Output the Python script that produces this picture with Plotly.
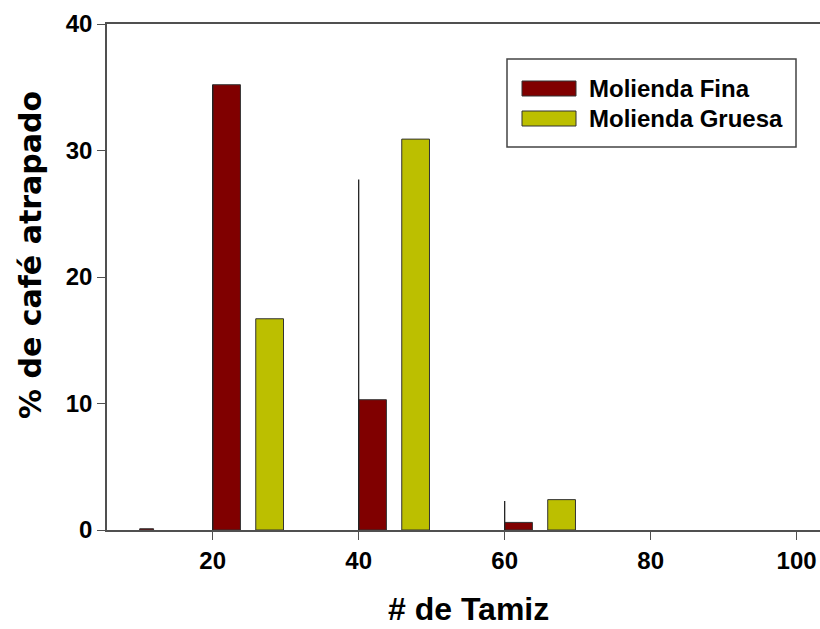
import plotly.graph_objects as go

# Data
series_names = ["Molienda Fina", "Molienda Gruesa"]
fina_tamiz = [10, 20, 40, 60]
fina_pct = [0.1, 35.2, 10.3, 0.6]
gruesa_tamiz = [20, 40, 60]
gruesa_pct = [16.7, 30.9, 2.4]
line_tamiz = [20, 40, 60]
line_top = [35.2, 27.7, 2.3]
x_ticks = [20, 40, 60, 80, 100]
y_ticks = [0, 10, 20, 30, 40]

fina_color = "#800000"
gruesa_color = "#BCBF00"
edge = "#333333"
font_family = "Liberation Sans, Arial, sans-serif"

W, H = 820, 629
ml, mr, mt, mb = 107, 0, 24, 99
pw, ph = W - ml - mr, H - mt - mb

def px(xp):
    return (xp - ml) / pw

def py(yp):
    return (H - mb - yp) / ph

fig = go.Figure()

fig.add_trace(go.Bar(
    x=fina_tamiz, y=fina_pct, name=series_names[0],
    width=[1.9, 3.8, 3.8, 3.8], offset=0,
    marker=dict(color=fina_color, line=dict(color=edge, width=1)),
    showlegend=False,
))
fig.add_trace(go.Bar(
    x=gruesa_tamiz, y=gruesa_pct, name=series_names[1],
    width=3.8, offset=5.9,
    marker=dict(color=gruesa_color, line=dict(color=edge, width=1)),
    showlegend=False,
))

# vertical lines
lx, ly = [], []
for t, v in zip(line_tamiz, line_top):
    lx += [t, t, None]
    ly += [0, v, None]
fig.add_trace(go.Scatter(x=lx, y=ly, mode="lines",
                         line=dict(color="#222222", width=1.3),
                         showlegend=False, hoverinfo="skip"))

# custom legend
shapes = [
    dict(type="rect", xref="paper", yref="paper",
         x0=px(507), x1=px(796), y0=py(147), y1=py(59),
         line=dict(color="#444444", width=1.5), fillcolor="white", layer="above"),
    dict(type="rect", xref="paper", yref="paper",
         x0=px(522), x1=px(576), y0=py(96), y1=py(81),
         line=dict(color=edge, width=1), fillcolor=fina_color, layer="above"),
    dict(type="rect", xref="paper", yref="paper",
         x0=px(522), x1=px(576), y0=py(126), y1=py(111),
         line=dict(color=edge, width=1), fillcolor=gruesa_color, layer="above"),
]
annotations = [
    dict(text="<b>%s</b>" % series_names[0], xref="paper", yref="paper",
         x=px(587), y=py(88.5), xanchor="left", yanchor="middle", showarrow=False,
         font=dict(family=font_family, size=24, color="black")),
    dict(text="<b>%s</b>" % series_names[1], xref="paper", yref="paper",
         x=px(587), y=py(118.5), xanchor="left", yanchor="middle", showarrow=False,
         font=dict(family=font_family, size=24, color="black")),
    dict(text="<b>% de café atrapado</b>", xref="paper", yref="paper",
         x=px(30), y=py(255), xanchor="center", yanchor="middle", textangle=-90,
         showarrow=False, font=dict(family="DejaVu Sans, sans-serif", size=30, color="black")),
    dict(text="<b># de Tamiz</b>", xref="paper", yref="paper",
         x=px(468), y=py(609), xanchor="center", yanchor="middle",
         showarrow=False, font=dict(family=font_family, size=32, color="black")),
]

fig.update_layout(
    width=W, height=H,
    margin=dict(l=ml, r=mr, t=mt, b=mb),
    paper_bgcolor="white", plot_bgcolor="white",
    barmode="overlay",
    shapes=shapes, annotations=annotations,
    font=dict(family=font_family, color="black"),
    hovermode=False,
)
fig.update_xaxes(
    range=[5.52, 103.2], tickvals=x_ticks, ticktext=[str(v) for v in x_ticks],
    showgrid=False, zeroline=False, showline=True, linecolor="#505050", linewidth=1.5,
    mirror=True, ticks="outside", ticklen=8, tickwidth=1.3, tickcolor="#505050",
    tickfont=dict(family=font_family, size=24, color="black", weight="bold"),
)
fig.update_yaxes(
    range=[0, 40], tickvals=y_ticks, ticktext=[str(v) for v in y_ticks],
    showgrid=False, zeroline=False, showline=True, linecolor="#505050", linewidth=1.5,
    ticks="outside", ticklen=8, tickwidth=1.3, tickcolor="#505050",
    tickfont=dict(family=font_family, size=24, color="black", weight="bold"),
)

fig.write_html("out.html",
               config={"displayModeBar": False},
               post_script="document.body.style.margin='0';document.body.style.overflow='hidden';")
